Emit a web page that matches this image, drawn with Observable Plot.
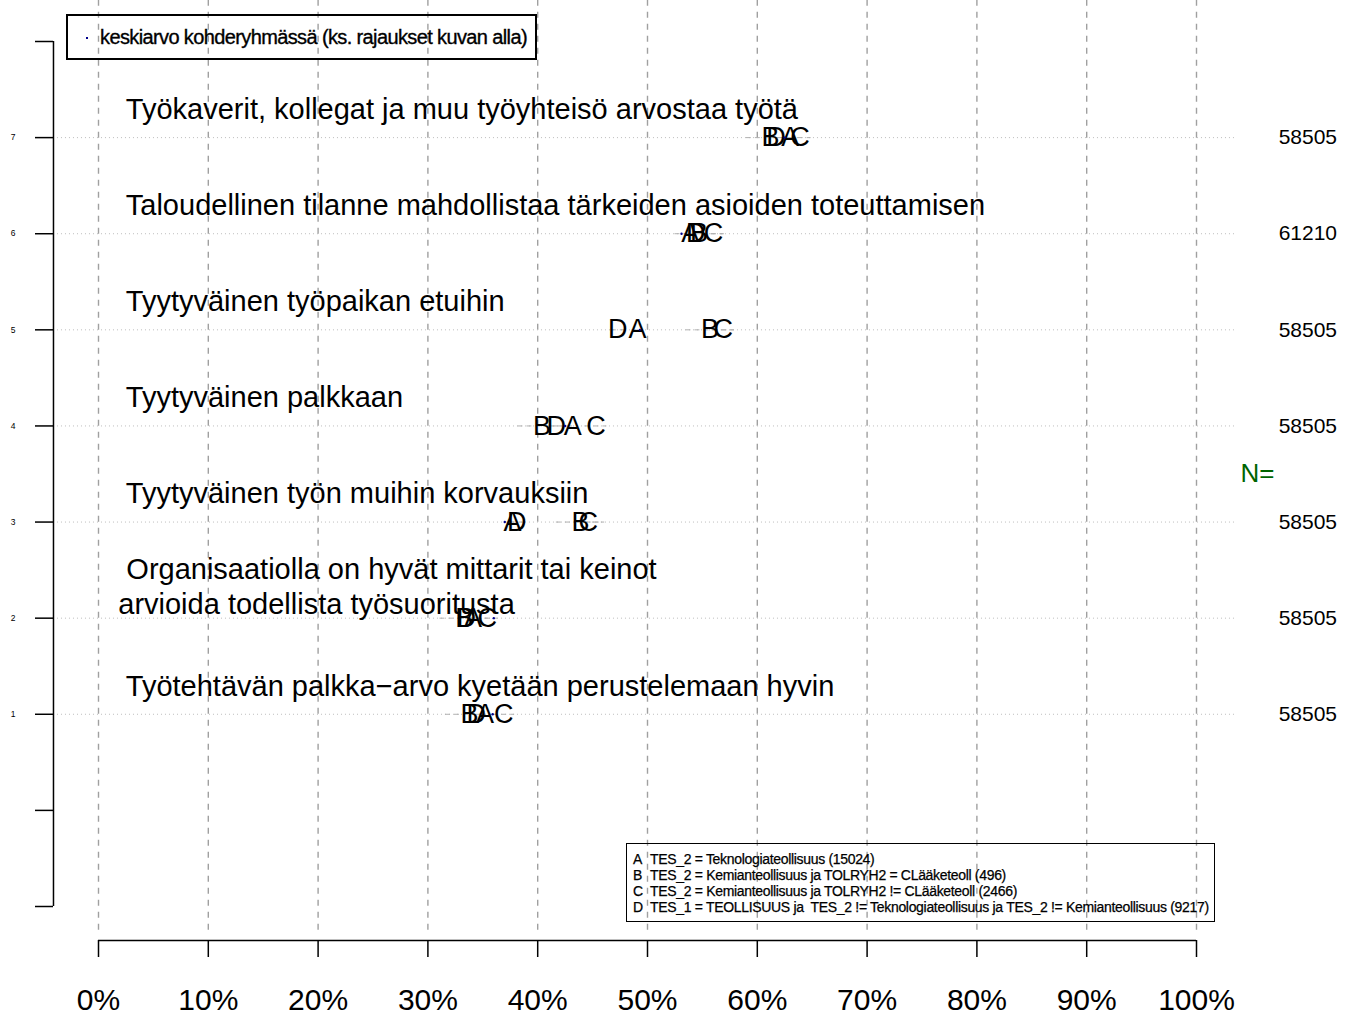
<!DOCTYPE html>
<html><head><meta charset="utf-8">
<script src="https://cdn.jsdelivr.net/npm/d3@7"></script>
<script src="https://cdn.jsdelivr.net/npm/@observablehq/plot@0.6"></script>
<style>
body{margin:0;background:#fff;}
#wrap{position:relative;width:1351px;height:1015px;font-family:"Liberation Sans",Arial,sans-serif;}
#wrap svg text{white-space:pre;}
.lg{position:absolute;box-sizing:border-box;color:#000;}
#lgTop{left:66px;top:14px;width:471px;height:46px;border:2px solid #000;}
#lgTop .dot{position:absolute;left:18px;top:21px;width:2px;height:2px;background:#00008b;}
#lgTop .t{position:absolute;left:32px;top:9px;font-size:20px;line-height:24px;letter-spacing:-0.62px;white-space:nowrap;-webkit-text-stroke:0.35px #000;}
#lgBot{left:626px;top:843px;width:589px;height:79px;border:1.5px solid #000;padding:7px 0 0 6px;font-size:14px;line-height:16px;letter-spacing:-0.32px;-webkit-text-stroke:0.25px #000;}
#lgBot .r{white-space:pre;}
#lgBot .k{display:inline-block;width:17px;}
</style></head><body><div id="wrap"></div>
<script>
// rows (1 = bottom, 7 = top)
const rows = [1, 2, 3, 4, 5, 6, 7];
const rowLabels = [
  " Työtehtävän palkka\u2212arvo kyetään perustelemaan hyvin",
  " Organisaatiolla on hyvät mittarit tai keinot\narvioida todellista työsuoritusta",
  " Tyytyväinen työn muihin korvauksiin",
  " Tyytyväinen palkkaan",
  " Tyytyväinen työpaikan etuihin",
  " Taloudellinen tilanne mahdollistaa tärkeiden asioiden toteuttamisen",
  " Työkaverit, kollegat ja muu työyhteisö arvostaa työtä"
];
const nValues = [58505, 58505, 58505, 58505, 58505, 61210, 58505];
// group means (%) per row
const groupA = [35.2, 34.1, 37.7, 43.2, 49.1, 53.9, 63.0];
const groupB = [33.8, 33.3, 43.9, 40.4, 55.7, 54.7, 61.2];
const groupC = [36.9, 35.4, 44.6, 45.3, 56.9, 56.0, 63.9];
const groupD = [34.4, 33.5, 38.1, 41.7, 47.3, 54.4, 61.7];
// approximate half-widths of the faint interval lines per group (%)
const ciA = [0.5, 0.5, 0.5, 0.5, 0.5, 0.5, 0.5];
const ciB = [2.2, 2.2, 2.2, 2.2, 2.2, 2.2, 2.2];
const ciC = [1.0, 1.0, 1.0, 1.0, 1.0, 1.0, 1.0];
const ciD = [0.6, 0.6, 0.6, 0.6, 0.6, 0.6, 0.6];
// mean in the target group (blue dots)
const targetMean = [35.9, 36.0, 37.0, 42.5, 49.3, 53.1, 62.5];
const groupNames = ["A", "B", "C", "D"];
const xTicks = [0, 10, 20, 30, 40, 50, 60, 70, 80, 90, 100];
const yTicks = [-1, 0, 1, 2, 3, 4, 5, 6, 7, 8];
const legendRows = [
  ["A", "TES_2 = Teknologiateollisuus (15024)"],
  ["B", "TES_2 = Kemianteollisuus ja TOLRYH2 = CLääketeoll (496)"],
  ["C", "TES_2 = Kemianteollisuus ja TOLRYH2 != CLääketeoll (2466)"],
  ["D", "TES_1 = TEOLLISUUS ja  TES_2 != Teknologiateollisuus ja TES_2 != Kemianteollisuus (9217)"]
];

const groupVals = [groupA, groupB, groupC, groupD];
const groupCi = [ciA, ciB, ciC, ciD];
const points = groupNames.flatMap((g, gi) => rows.map((r, ri) => ({
  group: g, row: r, v: groupVals[gi][ri], ci: groupCi[gi][ri]
})));
const rowData = rows.map((r, i) => ({row: r, label: rowLabels[i], n: nValues[i], mean: targetMean[i]}));
const singleLine = rowData.filter(d => !d.label.includes("\n"));
const multiLine = rowData.filter(d => d.label.includes("\n"));

const chart = Plot.plot({
  width: 1351, height: 1015,
  marginLeft: 53, marginRight: 155, marginTop: 41, marginBottom: 75,
  x: {domain: [0, 100], range: [98, 1196]},
  y: {domain: [-1, 8], range: [906, 41]},
  style: {fontFamily: "Liberation Sans, Arial, sans-serif", background: "white", overflow: "visible"},
  marks: [
    Plot.ruleX(xTicks, {x: d => d, y1: 8.43, y2: -1.25, stroke: "#a0a0a0", strokeWidth: 1.4, strokeDasharray: "6,6"}),
    Plot.ruleY(rows, {y: d => d, x1: -4.1, x2: 103.7, stroke: "#bdbdbd", strokeWidth: 1, strokeDasharray: "1,3"}),
    Plot.ruleY(points, {y: "row", x1: d => d.v - d.ci, x2: d => d.v + d.ci, stroke: "#b0b0b0", strokeWidth: 1, strokeDasharray: "5,4"}),
    Plot.text(singleLine, {x: 1.8, y: "row", text: "label", dy: -28, textAnchor: "start", lineAnchor: "middle", fontSize: 29, fill: "black"}),
    Plot.text(multiLine, {x: 1.8, y: "row", text: "label", dy: -32.5, textAnchor: "start", lineAnchor: "middle", fontSize: 29, lineHeight: 1.2, fill: "black"}),
    Plot.text(points, {x: "v", y: "row", text: "group", fontSize: 27, fill: "black"}),
    Plot.dot(rowData, {x: "mean", y: "row", r: 1.2, fill: "#00008b", stroke: "none"}),
    Plot.text(rowData, {x: 112.8, y: "row", text: d => String(d.n), textAnchor: "end", fontSize: 21, fill: "black"}),
    Plot.text(["N="], {x: 104.0, y: 3.5, text: d => d, textAnchor: "start", fontSize: 26, fill: "#006400"}),
    // left axis
    Plot.ruleX([-4.1], {x: d => d, y1: -1, y2: 8, stroke: "black", strokeWidth: 1.5}),
    Plot.axisY({ticks: yTicks, anchor: "left", tickSize: 18, tickPadding: 20, fontSize: 8.5, strokeWidth: 1.5, label: null,
      tickFormat: d => (d >= 1 && d <= 7 ? String(d) : "")}),
    // bottom axis
    Plot.ruleY([-1.354], {y: d => d, x1: 0, x2: 100, stroke: "black", strokeWidth: 1.5}),
    Plot.axisX({ticks: xTicks, anchor: "bottom", tickSize: 17, tickPadding: 31, fontSize: 30, strokeWidth: 1.5, label: null,
      tickFormat: d => d + "%"})
  ]
});

const wrap = document.getElementById("wrap");
wrap.appendChild(chart);

const legTop = document.createElement("div");
legTop.className = "lg"; legTop.id = "lgTop";
legTop.innerHTML = '<div class="dot"></div><div class="t">keskiarvo kohderyhmässä (ks. rajaukset kuvan alla)</div>';
wrap.appendChild(legTop);

const legBot = document.createElement("div");
legBot.className = "lg"; legBot.id = "lgBot";
legendRows.forEach(([k, t]) => {
  const r = document.createElement("div");
  r.className = "r";
  const s = document.createElement("span"); s.className = "k"; s.textContent = k;
  r.appendChild(s);
  r.appendChild(document.createTextNode(t));
  legBot.appendChild(r);
});
wrap.appendChild(legBot);
</script>
</body></html>
